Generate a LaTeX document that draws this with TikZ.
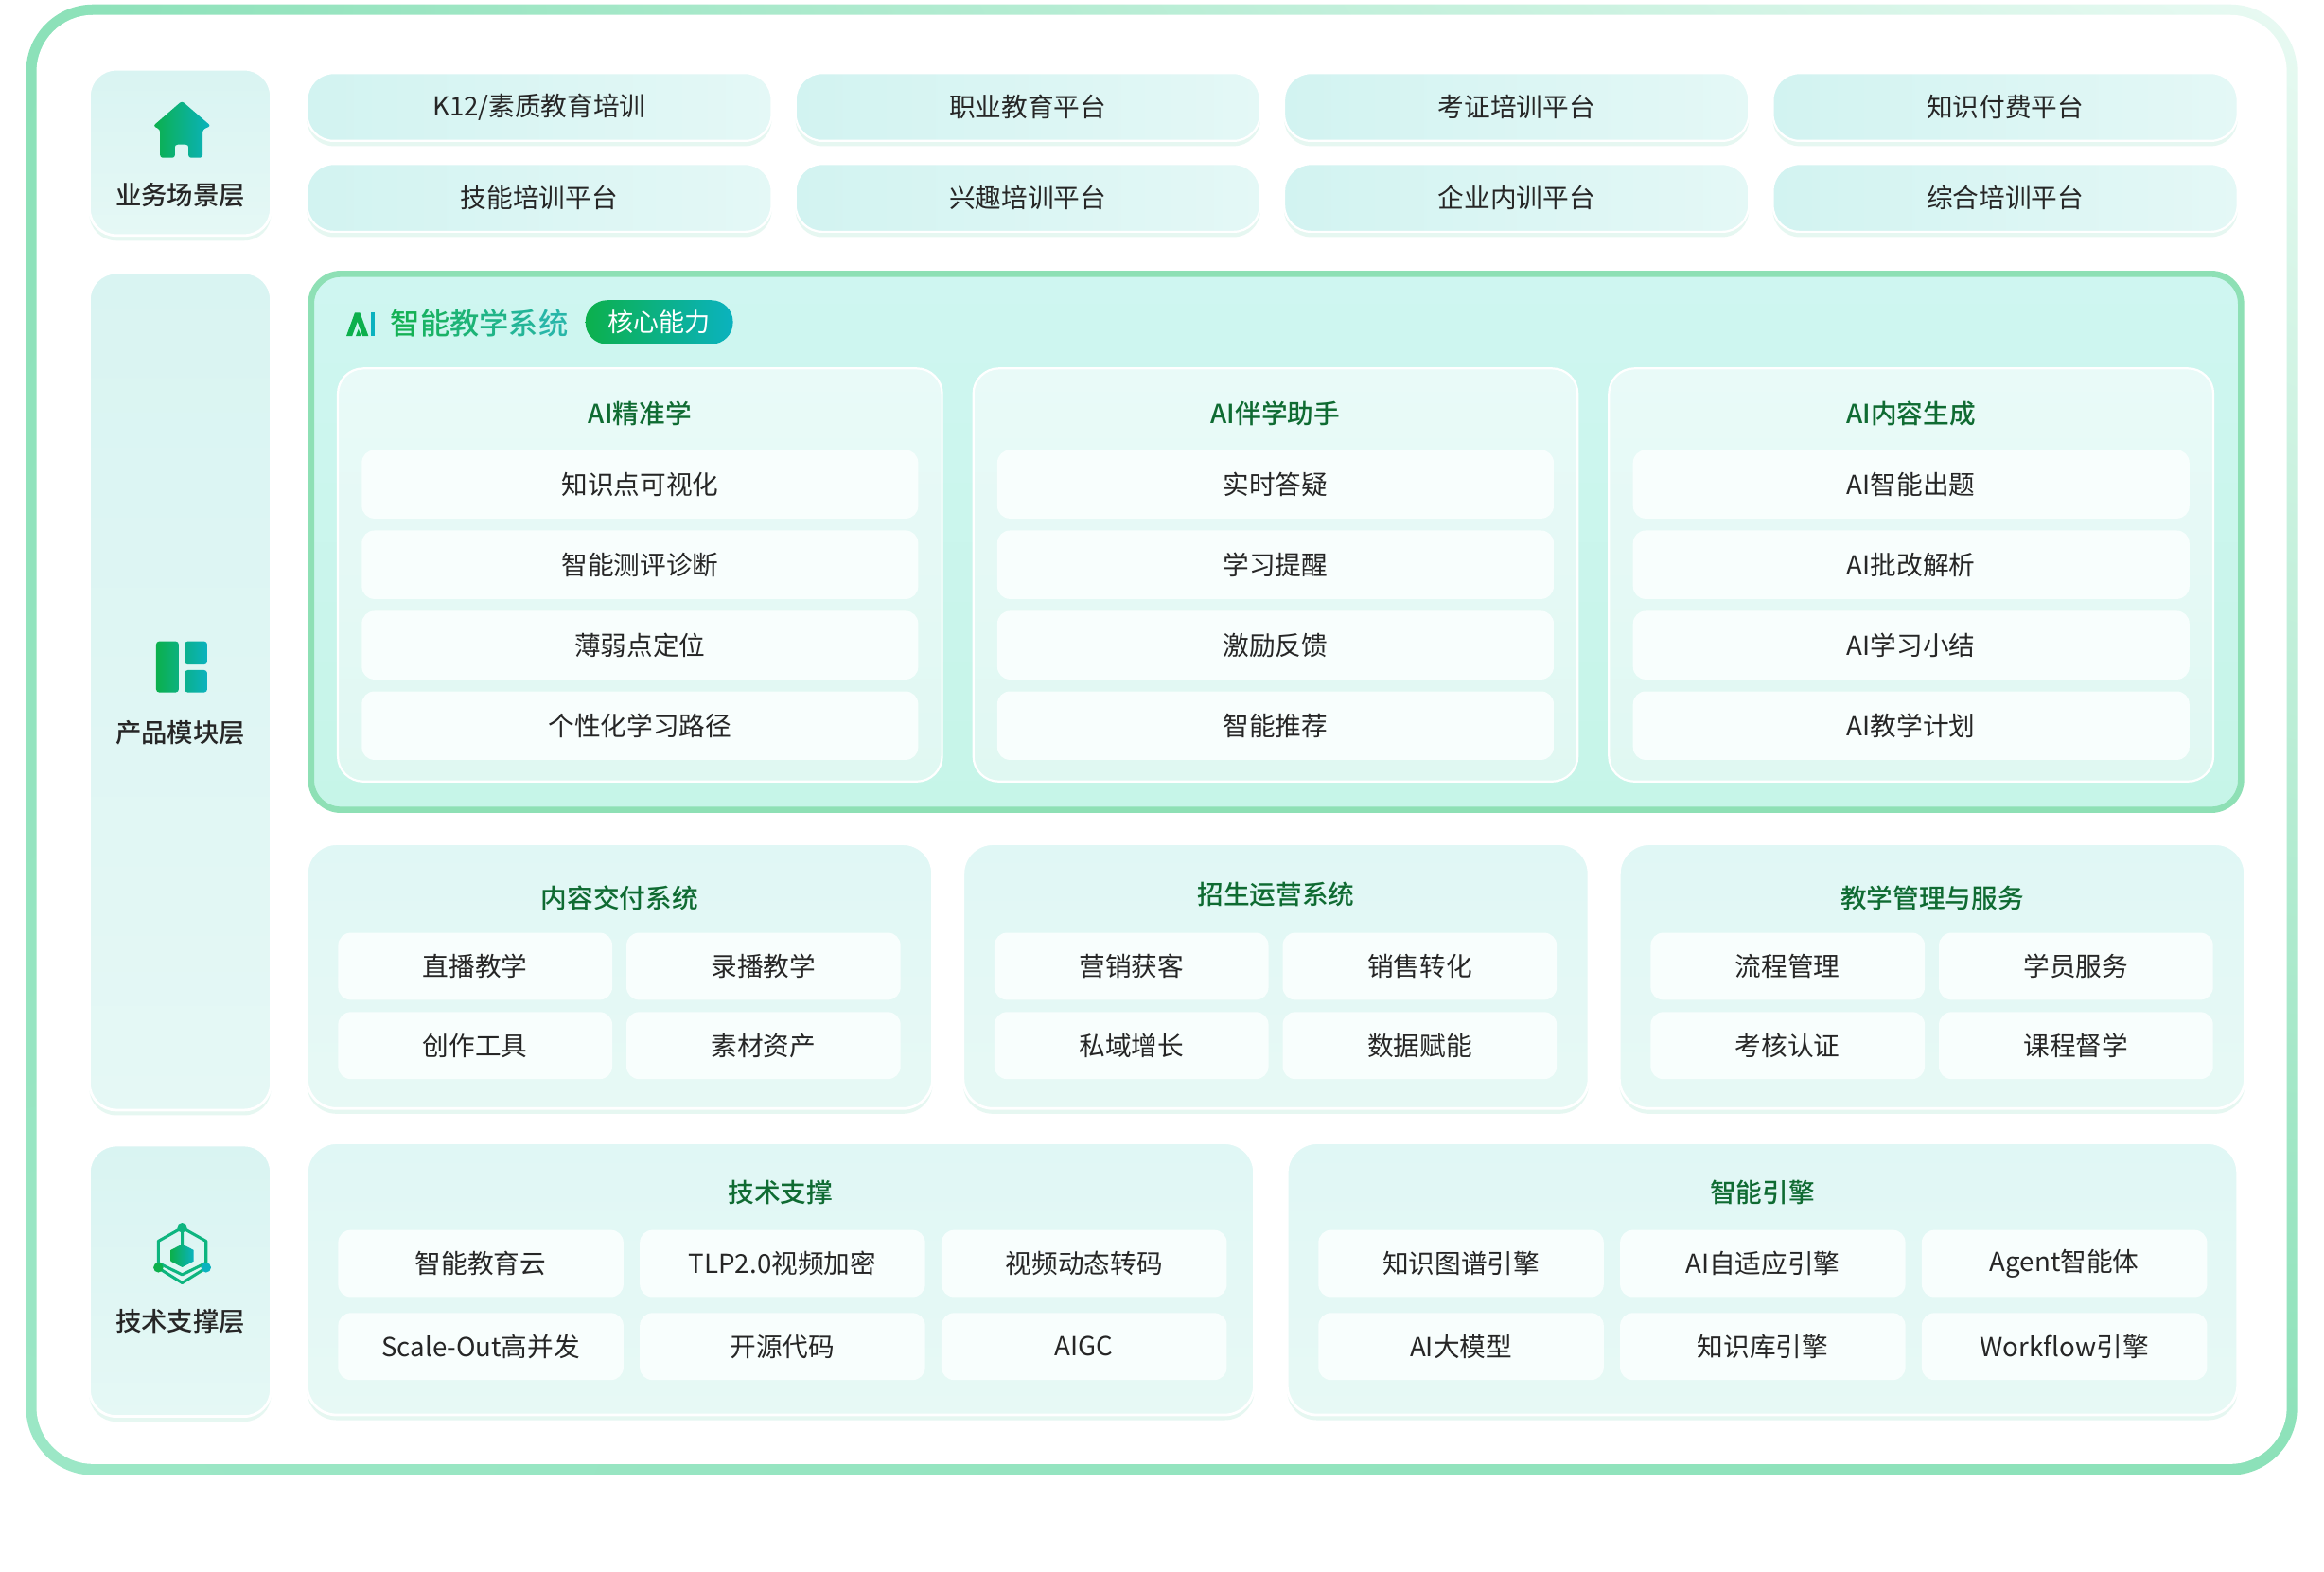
\documentclass[tikz,border=0pt]{standalone}
\usepackage{fontspec}
\setmainfont{Noto Sans CJK SC}
\newfontfamily\medfont{Noto Sans CJK SC Medium}
\usetikzlibrary{shadows,shadings}

\definecolor{frameA}{HTML}{8BE1B8}
\definecolor{frameB}{HTML}{E9FAF3}
\definecolor{frameC}{HTML}{9CE7C6}
\definecolor{layerT}{HTML}{D9F4F2}
\definecolor{layerB}{HTML}{E5F8F5}
\definecolor{bizL}{HTML}{D2F3F1}
\definecolor{bizR}{HTML}{E4F8F6}
\definecolor{aiT}{HTML}{CFF6F1}
\definecolor{aiB}{HTML}{C6F5E8}
\definecolor{ailine}{HTML}{8EE0B5}
\definecolor{subT}{HTML}{E9FAF8}
\definecolor{subB}{HTML}{E0F8F2}
\definecolor{panT}{HTML}{E0F7F5}
\definecolor{panB}{HTML}{E7F9F5}
\definecolor{cellfill}{HTML}{F8FEFD}
\definecolor{glow}{HTML}{D6F2E9}
\definecolor{ink}{HTML}{262626}
\definecolor{headgreen}{HTML}{0F6B32}
\definecolor{icoL}{HTML}{0CB04C}
\definecolor{icoM}{HTML}{0DB57F}
\definecolor{icoR}{HTML}{0BB2BF}
\definecolor{hdA}{HTML}{15B155}
\definecolor{hdF}{HTML}{28B6A8}

\newcommand\hdtext{\textcolor{hdA}{智}\textcolor{hdA!80!hdF}{能}\textcolor{hdA!60!hdF}{教}\textcolor{hdA!40!hdF}{学}\textcolor{hdA!20!hdF}{系}\textcolor{hdF}{统}}

\tikzset{
  softshadow/.style={drop shadow={shadow xshift=0pt, shadow yshift=-0.7mm, opacity=0.6, fill=glow}},
  layerbox/.style={top color=layerT, bottom color=layerB, draw=white, line width=1pt, rounded corners=3.6mm, softshadow},
  layername/.style={font=\medfont\fontsize{9.9}{12}\selectfont, text=ink},
  bizbox/.style={left color=bizL, right color=bizR, draw=white, line width=0.8pt, rounded corners=3.6mm, minimum width=62.4mm, minimum height=9.1mm, inner sep=0pt, font=\fontsize{10}{12}\selectfont, text=ink, softshadow},
  aibox/.style={top color=aiT, bottom color=aiB, draw=ailine, line width=2.4pt, rounded corners=4mm},
  subbox/.style={top color=subT, bottom color=subB, draw=white, line width=0.8pt, rounded corners=3.4mm},
  panel/.style={top color=panT, bottom color=panB, draw=white, line width=1pt, rounded corners=4mm, softshadow},
  heading/.style={font=\medfont\fontsize{10}{12}\selectfont, text=headgreen},
  cell/.style={fill=cellfill, rounded corners=1.7mm, inner sep=0pt, font=\fontsize{10}{12}\selectfont, text=ink},
  aicell/.style={cell, minimum width=74.7mm, minimum height=9.2mm},
  sycell/.style={cell, minimum width=36.8mm, minimum height=9mm},
  tkcell/.style={cell, minimum width=38.3mm, minimum height=9mm},
  hdfont/.style={font=\medfont\fontsize{11.3}{13}\selectfont},
  badgetext/.style={font=\fontsize{9.8}{12}\selectfont, text=white},
}

\begin{document}
\begin{tikzpicture}[x=0.2mm, y=-0.2mm]
\useasboundingbox (0,0) rectangle (1560,1055);
\fill[white] (0,0) rectangle (1560,1055);

\shade[upper left=frameA, upper right=frameB, lower left=frameC, lower right=frameA, rounded corners=9mm] (17.5,3) rectangle (1542,990);
\fill[white, rounded corners=7.6mm] (24.5,10) rectangle (1535,982.5);

% layer column
\draw[layerbox] (60,46.5) rectangle (182,158);
\draw[layerbox] (60,183) rectangle (182,745);
\draw[layerbox] (60,768.6) rectangle (182,950.6);
\shade[left color=icoL, right color=icoR, rounded corners=1pt] (122.1,67.8) -- (141.5,84.5) -- (136,87) -- (136,105.9) -- (126.5,105.9) -- (126.5,97) -- (117.4,97) -- (117.4,105.9) -- (107.5,105.9) -- (107.5,87) -- (102.8,84.5) -- cycle;
\shade[left color=icoL, right color=icoR, rounded corners=1.2pt] (104.8,430.4) rectangle (120,464.7) (123.9,430.4) rectangle (139.1,446) (123.9,449.7) rectangle (139.1,464.7);
\draw[icoM, line width=1.1pt, line join=round] (122.3,824) -- (138.3,833) -- (138.3,851) -- (122.3,861) -- (106.3,851) -- (106.3,833) -- cycle;
\draw[icoM, line width=1.1pt, line join=round] (122.3,824) -- (122.3,836) (107,848) -- (122.3,855.5) -- (137.5,848);
\shade[left color=icoL, right color=icoR] (122.3,835) -- (130,839) -- (130,846.5) -- (122.3,850.5) -- (114.6,846.5) -- (114.6,839) -- cycle;
\fill[icoM] (122.3,824) circle (1.9pt);
\fill[icoL] (106.3,850.7) circle (1.9pt);
\fill[icoR] (138.3,850.7) circle (1.9pt);
\draw (121,130.7) node[layername] (lyBiz) {业务场景层};
\draw (121,491.7) node[layername] (lyProd) {产品模块层};
\draw (121,886.6) node[layername] (lyTech) {技术支撑层};

% business scenes
\draw (362,71.8) node[bizbox] (biz1) {K12/素质教育培训};
\draw (690,71.8) node[bizbox] (biz2) {职业教育平台};
\draw (1018,71.8) node[bizbox] (biz3) {考证培训平台};
\draw (1346,71.8) node[bizbox] (biz4) {知识付费平台};
\draw (362,132.8) node[bizbox] (biz5) {技能培训平台};
\draw (690,132.8) node[bizbox] (biz6) {兴趣培训平台};
\draw (1018,132.8) node[bizbox] (biz7) {企业内训平台};
\draw (1346,132.8) node[bizbox] (biz8) {综合培训平台};

% AI system
\draw[aibox] (208.8,183.8) rectangle (1504.3,543.5);
\fill[icoL] (232.5,225.5) -- (238.2,209.8) -- (241.6,209.8) -- (247.3,225.5) -- (243.4,225.5) -- (239.9,215.8) -- (236.4,225.5) -- cycle;
\fill[icoL] (238.8,225.5) -- (240.6,220.8) -- (242.4,225.5) -- cycle;
\fill[icoR] (249,209.8) rectangle (251.8,225.5);
\draw (321.8,217) node[hdfont] (aiHead) {\hdtext};
\shade[left color=icoL, right color=icoR, rounded corners=2.9mm] (393,201.5) rectangle (492,231);
\draw (442.5,216.3) node[badgetext] (aiBadge) {核心能力};

\draw[subbox] (226.8,247.3) rectangle (632.4,524.5);
\draw[subbox] (653.4,247.3) rectangle (1059,524.5);
\draw[subbox] (1080,247.3) rectangle (1485.7,524.5);
\draw (429.6,277.4) node[heading] (tPrecise) {AI精准学};
\draw (856.2,277.4) node[heading] (tTutor) {AI伴学助手};
\draw (1282.9,277.4) node[heading] (tGen) {AI内容生成};
\draw (429.6,325) node[aicell] (pre1) {知识点可视化};
\draw (429.6,379) node[aicell] (pre2) {智能测评诊断};
\draw (429.6,433) node[aicell] (pre3) {薄弱点定位};
\draw (429.6,487) node[aicell] (pre4) {个性化学习路径};
\draw (856.2,325) node[aicell] (tut1) {实时答疑};
\draw (856.2,379) node[aicell] (tut2) {学习提醒};
\draw (856.2,433) node[aicell] (tut3) {激励反馈};
\draw (856.2,487) node[aicell] (tut4) {智能推荐};
\draw (1282.9,325) node[aicell] (gen1) {AI智能出题};
\draw (1282.9,379) node[aicell] (gen2) {AI批改解析};
\draw (1282.9,433) node[aicell] (gen3) {AI学习小结};
\draw (1282.9,487) node[aicell] (gen4) {AI教学计划};

% systems
\draw[panel] (206,566.3) rectangle (626,744);
\draw[panel] (646.5,566.3) rectangle (1066.5,744);
\draw[panel] (1087,566.3) rectangle (1507,744);
\draw (416,603) node[heading] (tDeliver) {内容交付系统};
\draw (856.5,600) node[heading] (tEnroll) {招生运营系统};
\draw (1297,603) node[heading] (tManage) {教学管理与服务};
\draw (319,648.5) node[sycell] (del1) {直播教学};
\draw (512.5,648.5) node[sycell] (del2) {录播教学};
\draw (319,701.7) node[sycell] (del3) {创作工具};
\draw (512.5,701.7) node[sycell] (del4) {素材资产};
\draw (759.5,648.5) node[sycell] (enr1) {营销获客};
\draw (953,648.5) node[sycell] (enr2) {销售转化};
\draw (759.5,701.7) node[sycell] (enr3) {私域增长};
\draw (953,701.7) node[sycell] (enr4) {数据赋能};
\draw (1200,648.5) node[sycell] (man1) {流程管理};
\draw (1393.5,648.5) node[sycell] (man2) {学员服务};
\draw (1200,701.7) node[sycell] (man3) {考核认证};
\draw (1393.5,701.7) node[sycell] (man4) {课程督学};

% tech
\draw[panel] (206,767) rectangle (842,949.6);
\draw[panel] (864,767) rectangle (1502,949.6);
\draw (524,800.3) node[heading] (tSupport) {技术支撑};
\draw (1183,800.3) node[heading] (tEngine) {智能引擎};
\draw (322.75,848) node[tkcell] (sup1) {智能教育云};
\draw (525.25,848) node[tkcell] (sup2) {TLP2.0视频加密};
\draw (727.75,848) node[tkcell] (sup3) {视频动态转码};
\draw (322.75,903.7) node[tkcell] (sup4) {Scale-Out高并发};
\draw (525.25,903.7) node[tkcell] (sup5) {开源代码};
\draw (727.75,903.7) node[tkcell] (sup6) {AIGC};
\draw (980.75,848) node[tkcell] (eng1) {知识图谱引擎};
\draw (1183.25,848) node[tkcell] (eng2) {AI自适应引擎};
\draw (1385.75,848) node[tkcell] (eng3) {Agent智能体};
\draw (980.75,903.7) node[tkcell] (eng4) {AI大模型};
\draw (1183.25,903.7) node[tkcell] (eng5) {知识库引擎};
\draw (1385.75,903.7) node[tkcell] (eng6) {Workflow引擎};
\end{tikzpicture}
\end{document}
